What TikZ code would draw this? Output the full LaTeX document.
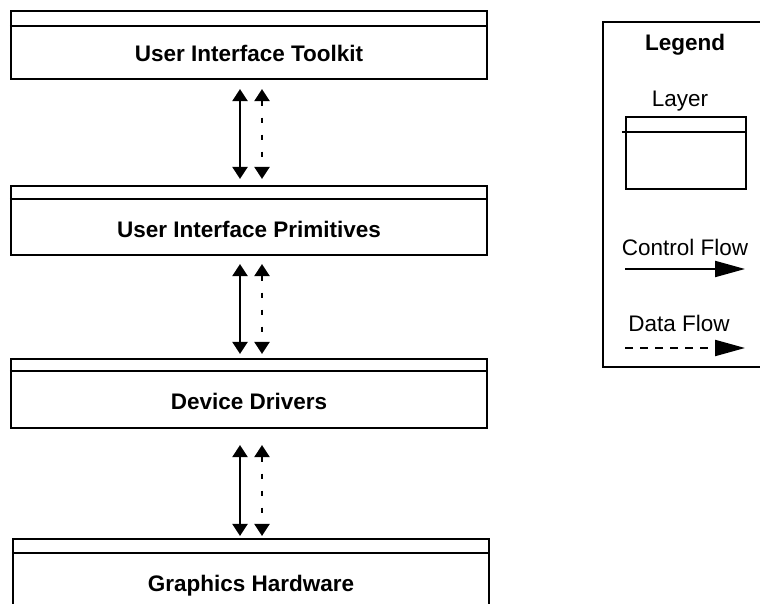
\documentclass[tikz,border=0pt]{standalone}
\usepackage{fontspec}
\setmainfont{Liberation Sans}
\usetikzlibrary{arrows.meta,calc}
\begin{document}
\begin{tikzpicture}[x=1pt,y=-1pt,
  line width=2.1pt,
  every node/.style={font=\fontsize{22.5}{27}\selectfont},
  layer/.style={draw, rectangle, inner sep=0pt, minimum width=476pt, minimum height=69pt},
  title/.style={font=\fontsize{22.5}{27}\selectfont\bfseries, inner sep=0pt},
  lab/.style={inner sep=0pt},
  ctrl/.style={{Triangle[length=12pt,width=15pt]}-{Triangle[length=12pt,width=15pt]}},
  dataf/.style={{Triangle[length=12pt,width=15pt]}-{Triangle[length=12pt,width=15pt]}, dash pattern=on 5pt off 12pt},
  legctrl/.style={-{Triangle[length=30pt,width=16pt]}},
  legdata/.style={-{Triangle[length=30pt,width=16pt]}, dash pattern=on 8pt off 7pt}
]
\useasboundingbox (0,0) rectangle (760,604);
\clip (0,0) rectangle (760,604);

% layers
\node[layer, minimum height=68pt] (l1) at (249,45) {};
\draw (l1.north west) ++(0,16) -- ++(476,0);
\node[title] (t1) at (249,53) {User Interface Toolkit};

\node[layer] (l2) at (249,220.5) {};
\draw (l2.north west) ++(0,14) -- ++(476,0);
\node[title] (t2) at (249,229) {User Interface Primitives};

\node[layer] (l3) at (249,393.5) {};
\draw (l3.north west) ++(0,13) -- ++(476,0);
\node[title] (t3) at (249,401) {Device Drivers};

\node[layer] (l4) at (251,573.5) {};
\draw (l4.north west) ++(0,15) -- ++(476,0);
\node[title] (t4) at (251,586) {Graphics Hardware};

% flows
\draw[ctrl] ($(l1.south)+(-9,9)$) -- ($(l2.north)+(-9,-6)$);
\draw[dataf] ($(l1.south)+(13,9)$) -- ($(l2.north)+(13,-6)$);
\draw[ctrl] ($(l2.south)+(-9,8)$) -- ($(l3.north)+(-9,-4)$);
\draw[dataf] ($(l2.south)+(13,8)$) -- ($(l3.north)+(13,-4)$);
\draw[ctrl] ($(l3.south)+(-9,16)$) -- ($(l4.north)+(-11,-2)$);
\draw[dataf] ($(l3.south)+(13,16)$) -- ($(l4.north)+(11,-2)$);

% legend
\node[draw, rectangle, inner sep=0pt, anchor=north west, minimum width=170pt, minimum height=345pt] (legend) at (602,21) {};
\node[title] (lt) at (685,45) {Legend};
\node[lab] (ll) at (680,101) {Layer};
\node[draw, rectangle, inner sep=0pt, minimum width=120pt, minimum height=72pt] (lb) at (686,153) {};
\draw (lb.north west) ++(-3,16) -- ++(123,0);
\node[lab] (lc) at (685,247) {Control Flow};
\coordinate (c1) at (625,269);
\coordinate (c2) at (745,269);
\draw[legctrl] (c1) -- (c2);
\node[lab] (ld) at (679,323) {Data Flow};
\coordinate (d1) at (625,348);
\coordinate (d2) at (745,348);
\draw[legdata] (d1) -- (d2);
\end{tikzpicture}
\end{document}
